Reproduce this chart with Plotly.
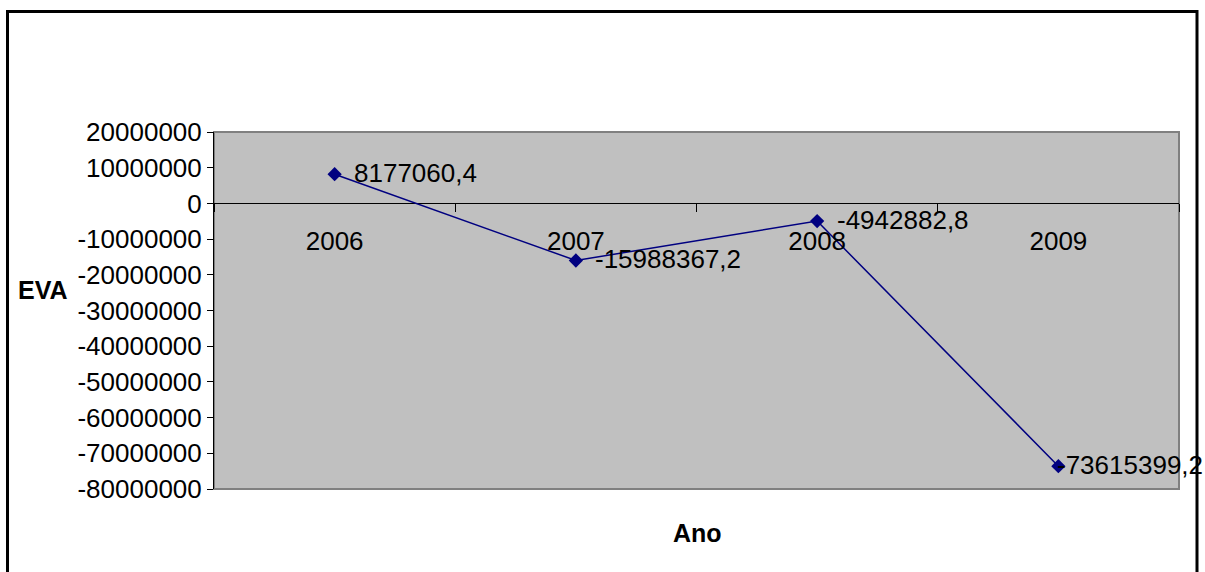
import plotly.graph_objects as go

# EVA por ano
anos = ["2006", "2007", "2008", "2009"]
eva = [8177060.4, -15988367.2, -4942882.8, -73615399.2]
rotulos = ["8177060,4", "-15988367,2", "-4942882,8", "-73615399,2"]
y_ticks = [20000000, 10000000, 0, -10000000, -20000000, -30000000,
           -40000000, -50000000, -60000000, -70000000, -80000000]

W, H = 1205, 572
ML, MR, MT, MB = 214, 26, 132, 83
PW, PH = W - ML - MR, H - MT - MB
FONT = "Liberation Sans, Arial, sans-serif"
FS = 26

y_min, y_max = min(y_ticks), max(y_ticks)


def px_x(px):
    return (px - ML) / PW


def px_y(py):
    return (H - MB - py) / PH


fig = go.Figure()
fig.add_trace(go.Scatter(
    x=anos, y=eva, mode="lines+markers",
    line=dict(color="#000080", width=1.5),
    marker=dict(symbol="diamond", size=11, color="#000080"),
    hoverinfo="skip", showlegend=False,
))

# data labels to the right of each point; the last one sits over its marker
shifts = [17, 17, 18, -3]
annotations = []
for i, (v, t, s) in enumerate(zip(eva, rotulos, shifts)):
    annotations.append(dict(
        x=i, y=v, xref="x", yref="y", text=t, showarrow=False,
        xanchor="left", yanchor="middle", xshift=s, yshift=1,
        font=dict(family=FONT, size=FS, color="black"),
    ))

annotations.append(dict(
    x=px_x(43), y=px_y(290), xref="paper", yref="paper", text="<b>EVA</b>",
    showarrow=False, xanchor="center", yanchor="middle",
    font=dict(family=FONT, size=25, color="black"),
))
annotations.append(dict(
    x=px_x(697), y=px_y(533), xref="paper", yref="paper", text="<b>Ano</b>",
    showarrow=False, xanchor="center", yanchor="middle",
    font=dict(family=FONT, size=25, color="black"),
))

shapes = [
    # plot area frame
    dict(type="rect", xref="paper", yref="paper", x0=0, x1=1, y0=0, y1=1,
         line=dict(color="#808080", width=2), layer="below"),
    # chart border
    dict(type="rect", xref="paper", yref="paper",
         x0=px_x(7.5), x1=px_x(1197), y0=px_y(600), y1=px_y(11.5),
         line=dict(color="black", width=3)),
]

fig.update_layout(
    width=W, height=H,
    margin=dict(l=ML, r=MR, t=MT, b=MB, autoexpand=False),
    paper_bgcolor="white", plot_bgcolor="#C0C0C0",
    font=dict(family=FONT, size=FS, color="black"),
    annotations=annotations, shapes=shapes,
    xaxis=dict(
        type="category", range=[-0.5, len(anos) - 0.5],
        anchor="free", position=(0 - y_min) / (y_max - y_min),
        showgrid=False, showline=False, zeroline=False,
        ticks="outside", tickson="boundaries", ticklen=8, tickwidth=1,
        tickcolor="black", ticklabelstandoff=20,
        tickfont=dict(family=FONT, size=FS, color="black"),
        automargin=False,
    ),
    yaxis=dict(
        range=[y_min, y_max], tickmode="array", tickvals=y_ticks,
        ticktext=[str(v) for v in y_ticks],
        showgrid=False, showline=True, linecolor="black", linewidth=1,
        zeroline=True, zerolinecolor="black", zerolinewidth=1,
        ticks="outside", ticklen=6, tickcolor="black",
        tickfont=dict(family=FONT, size=FS, color="black"),
        automargin=False,
    ),
)

fig.write_html("out.html")
